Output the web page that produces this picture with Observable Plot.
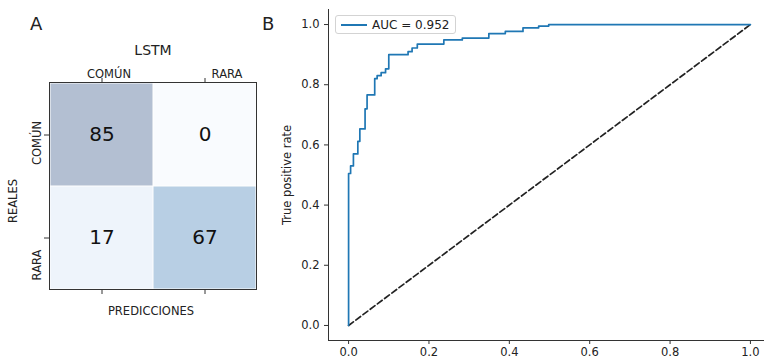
<!DOCTYPE html>
<html><head><meta charset="utf-8">
<script src="https://cdn.jsdelivr.net/npm/d3@7"></script>
<script src="https://cdn.jsdelivr.net/npm/@observablehq/plot@0.6"></script>
<style>
body{margin:0;background:#fff;font-family:"DejaVu Sans",sans-serif;}
#wrap{position:relative;width:773px;height:364px;overflow:hidden;background:#fff}
.abs{position:absolute}
.abs svg{display:block}
</style></head><body><div id="wrap"></div>
<script>
// ---- data ----
const predLabels = ["COMÚN", "RARA"];
const realLabels = ["COMÚN", "RARA"];
const cmCounts = [[85, 0], [17, 67]];
const cmTitle = "LSTM";
const fpr = [0, 0, 0.005, 0.012, 0.023, 0.028, 0.041, 0.046, 0.065, 0.071, 0.081, 0.092, 0.100, 0.148, 0.158, 0.171, 0.237, 0.283, 0.349, 0.390, 0.434, 0.473, 0.498, 1.0];
const tpr = [0, 0.505, 0.530, 0.570, 0.612, 0.653, 0.720, 0.766, 0.820, 0.830, 0.840, 0.853, 0.900, 0.910, 0.922, 0.935, 0.949, 0.955, 0.970, 0.977, 0.989, 0.995, 1.0, 1.0];
const diagX = [0, 1];
const diagY = [0, 1];
const axisTicks = [0, 0.2, 0.4, 0.6, 0.8, 1.0];
const aucLabel = "AUC = 0.952";

const wrap = document.getElementById("wrap");
const FONT = "DejaVu Sans";

// ---- Panel A: confusion matrix ----
const cells = realLabels.flatMap((r, i) => predLabels.map((p, j) => ({real: r, pred: p, n: cmCounts[i][j]})));
const A = Plot.plot({
  width: 270, height: 330,
  marginLeft: 49, marginRight: 14, marginTop: 82, marginBottom: 41,
  style: {fontFamily: FONT, fontSize: "11.5px", color: "#222", background: "transparent", overflow: "visible"},
  x: {domain: predLabels, padding: 0},
  y: {domain: realLabels, padding: 0},
  color: {type: "ordinal", domain: [85, 0, 17, 67], range: ["#b3bfd2", "#f9fbfe", "#eef4fb", "#b8cfe4"]},
  marks: [
    Plot.cell(cells, {x: "pred", y: "real", fill: "n", inset: 0.5}),
    Plot.text(cells, {x: "pred", y: "real", text: d => String(d.n), fontSize: 20, fill: "#111"}),
    Plot.frame({stroke: "#333", strokeWidth: 1}),
    Plot.axisX({anchor: "top", tickSize: 5, tickFormat: () => "", label: null, stroke: "#333"}),
    Plot.axisX({anchor: "bottom", tickSize: 5, tickFormat: () => "", label: null, stroke: "#333"}),
    Plot.axisY({anchor: "left", tickSize: 5, tickFormat: () => "", label: null, stroke: "#333"}),
    Plot.text([predLabels[0]], {x: d => d, frameAnchor: "top", dy: -5, dx: 7, lineAnchor: "bottom", textAnchor: "middle", fill: "#222"}),
    Plot.text([predLabels[1]], {x: d => d, frameAnchor: "top", dy: -5, dx: 22, lineAnchor: "bottom", textAnchor: "middle", fill: "#222"}),
    Plot.text([realLabels[0]], {y: d => d, frameAnchor: "left", dx: -12.5, dy: 8, rotate: -90, lineAnchor: "middle", textAnchor: "middle", fill: "#222"}),
    Plot.text([realLabels[1]], {y: d => d, frameAnchor: "left", dx: -12.5, dy: 27, rotate: -90, lineAnchor: "middle", textAnchor: "middle", fill: "#222"}),
    Plot.text([cmTitle], {frameAnchor: "top", dy: -32, dx: 0, fontSize: 14, lineAnchor: "middle", textAnchor: "middle", fill: "#222"}),
    Plot.text(["PREDICCIONES"], {frameAnchor: "bottom", dy: 22, dx: -2, lineAnchor: "middle", textAnchor: "middle", fill: "#222"}),
    Plot.text(["REALES"], {frameAnchor: "left", dx: -36, dy: 15, rotate: -90, lineAnchor: "middle", textAnchor: "middle", fill: "#222"})
  ]
});
const aDiv = document.createElement("div");
aDiv.className = "abs"; aDiv.style.left = "0px"; aDiv.style.top = "0px";
aDiv.appendChild(A); wrap.appendChild(aDiv);

// ---- Panel B: ROC curve ----
const roc = fpr.map((f, i) => ({fpr: f, tpr: tpr[i]}));
const diag = diagX.map((x, i) => ({x, y: diagY[i]}));
const fmt = d3.format(".1f");
const B = Plot.plot({
  width: 503, height: 364,
  marginLeft: 58, marginRight: 9, marginTop: 9, marginBottom: 24,
  style: {fontFamily: FONT, fontSize: "11.5px", color: "#222", background: "transparent", overflow: "visible"},
  x: {domain: [-0.05, 1.035]},
  y: {domain: [-0.05, 1.05]},
  marks: [
    Plot.ruleX([-0.05], {stroke: "#333", strokeWidth: 1}),
    Plot.ruleY([-0.05], {stroke: "#333", strokeWidth: 1}),
    Plot.axisX({ticks: axisTicks, tickSize: 4, tickPadding: 3, tickFormat: fmt, label: null, stroke: "#333"}),
    Plot.axisY({ticks: axisTicks, tickSize: 4, tickPadding: 5, tickFormat: fmt, label: null, stroke: "#333"}),
    Plot.line(diag, {x: "x", y: "y", stroke: "#222", strokeWidth: 1.7, strokeDasharray: "6,3"}),
    Plot.line(roc, {x: "fpr", y: "tpr", curve: "step-after", stroke: "#1f77b4", strokeWidth: 1.7}),
    Plot.text(["True positive rate"], {frameAnchor: "left", dx: -41, rotate: -90, lineAnchor: "middle", textAnchor: "middle", fill: "#222"})
  ]
});
const bDiv = document.createElement("div");
bDiv.className = "abs"; bDiv.style.left = "270px"; bDiv.style.top = "0px";
bDiv.appendChild(B); wrap.appendChild(bDiv);

// ---- legend ----
const leg = document.createElement("div");
leg.className = "abs";
Object.assign(leg.style, {left: "335px", top: "15px", width: "121px", height: "19px", border: "1px solid #d3d3d3",
  borderRadius: "3px", background: "rgba(255,255,255,0.85)", boxSizing: "border-box"});
const sw = document.createElement("div");
sw.className = "abs";
Object.assign(sw.style, {left: "5px", top: "8px", width: "26px", height: "2px", background: "#1f77b4"});
const lt = document.createElement("div");
lt.className = "abs";
Object.assign(lt.style, {left: "36px", top: "1px", fontSize: "12px", lineHeight: "16px", color: "#222", whiteSpace: "nowrap"});
lt.textContent = aucLabel;
leg.appendChild(sw); leg.appendChild(lt); wrap.appendChild(leg);

// ---- panel letters ----
for (const [t, x] of [["A", 30], ["B", 262]]) {
  const d = document.createElement("div");
  d.className = "abs";
  Object.assign(d.style, {left: x + "px", top: "15px", fontSize: "18px", lineHeight: "18px", color: "#222"});
  d.textContent = t;
  wrap.appendChild(d);
}
</script></body></html>
